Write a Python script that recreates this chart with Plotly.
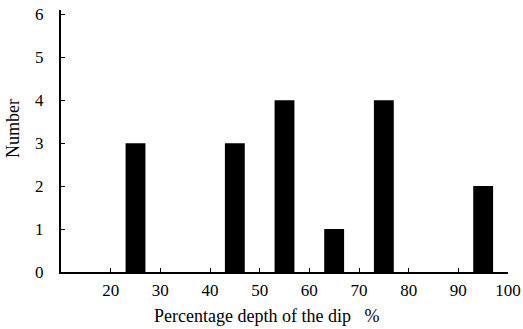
import plotly.graph_objects as go

depth = [25, 45, 55, 65, 75, 95]
number = [3, 3, 4, 1, 4, 2]
x_ticks = [20, 30, 40, 50, 60, 70, 80, 90, 100]
y_ticks = [0, 1, 2, 3, 4, 5, 6]
x_title = "Percentage depth of the dip\u00a0\u00a0\u00a0%"
y_title = "Number"

font = "Liberation Serif, Times New Roman, serif"

fig = go.Figure(go.Bar(x=depth, y=number, width=4, marker=dict(color="black", line=dict(width=0))))

fig.update_layout(
    width=523, height=329,
    margin=dict(l=61, r=15, t=10, b=57),
    paper_bgcolor="white", plot_bgcolor="white",
    showlegend=False,
    font=dict(family=font, size=17, color="black"),
    xaxis=dict(
        range=[10, 100], tickvals=x_ticks, showgrid=False, zeroline=False,
        showline=True, linecolor="black", linewidth=2, automargin=False,
        ticks="inside", ticklen=4, tickcolor="black", tickwidth=1,
        tickfont=dict(size=17), ticklabelstandoff=2,
    ),
    yaxis=dict(
        range=[0, 6.1], tickvals=y_ticks, showgrid=False, zeroline=False,
        showline=True, linecolor="black", linewidth=2, automargin=False,
        ticks="inside", ticklen=4, tickcolor="black", tickwidth=1,
        tickfont=dict(size=17), ticklabelstandoff=12,
    ),
    annotations=[
        dict(text=x_title, xref="paper", yref="paper", x=(266 - 61) / 447, y=-(316 - 272) / 262,
             xanchor="center", yanchor="middle", showarrow=False, font=dict(size=18)),
        dict(text=y_title, xref="paper", yref="paper", x=-(61 - 13) / 447, y=(272 - 129) / 262,
             xanchor="center", yanchor="middle", showarrow=False, textangle=-90, font=dict(size=18)),
    ],
)

fig.write_html("out.html", config={"displayModeBar": False},
               post_script="document.body.style.margin='0';document.body.style.overflow='hidden';")
